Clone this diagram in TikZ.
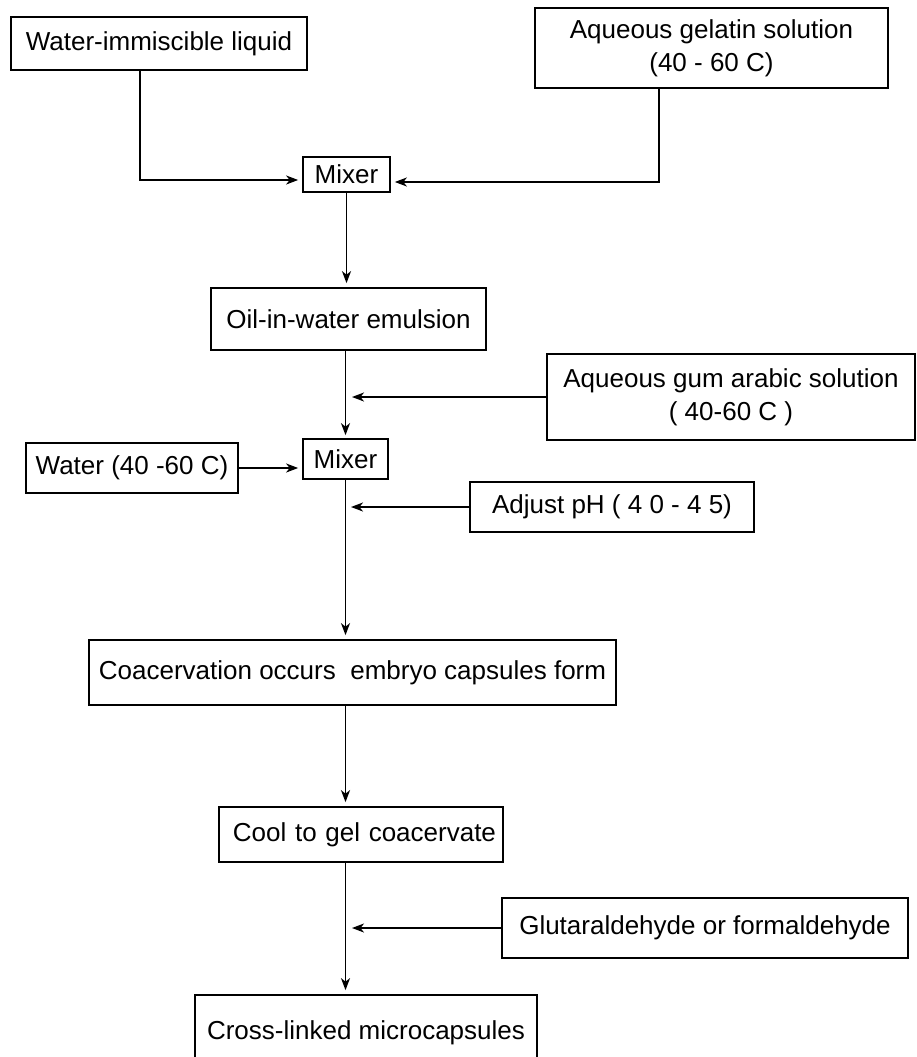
\documentclass[tikz,border=0pt]{standalone}
\usepackage{fontspec}
\setmainfont{Liberation Sans}
\usetikzlibrary{arrows.meta}
\begin{document}
\begin{tikzpicture}[x=1pt,y=-1pt,
  box/.style={draw, line width=1.7pt, inner sep=0pt, align=center, font=\fontsize{26}{33}\selectfont},
  flow/.style={line width=1.7pt, -{Stealth[length=12pt,width=9pt,inset=3.5pt]}}]
\path[use as bounding box] (0,0) rectangle (916,1057);
\clip (0,0) rectangle (916,1057);
\fill[white] (0,0) rectangle (916,1057);

\node[box, minimum width=296pt, minimum height=53pt] (A) at (159,43.5) {Water-immiscible liquid};
\node[box, minimum width=353pt, minimum height=80pt] (B) at (711.5,48) {Aqueous gelatin solution\\(40 - 60 C)};
\node[box, minimum width=87pt, minimum height=35pt] (mix1) at (346.5,174.5) {Mixer};
\node[box, minimum width=275pt, minimum height=62pt] (oil) at (348.5,319) {Oil-in-water emulsion};
\node[box, minimum width=368pt, minimum height=86pt] (gum) at (731,397) {Aqueous gum arabic solution\\( 40-60 C )};
\node[box, minimum width=212pt, minimum height=50pt] (water) at (132,468) {Water (40 -60 C)};
\node[box, minimum width=85pt, minimum height=40pt] (mix2) at (345.5,459) {Mixer};
\node[box, minimum width=284pt, minimum height=50pt] (ph) at (612,507) {Adjust pH ( 4 0 - 4 5)};
\node[box, minimum width=527pt, minimum height=65pt] (coac) at (352.5,672.5) {Coacervation occurs\ \ embryo capsules form};
\node[box, minimum width=284pt, minimum height=55pt, text width=270pt, align=right] (cool) at (361,834.5) {Cool to gel coacervate};
\node[box, minimum width=406pt, minimum height=60pt] (glut) at (705,928) {Glutaraldehyde or formaldehyde};
\node[box, minimum width=342pt, minimum height=76pt] (cross) at (366,1033) {Cross-linked microcapsules};

\draw[flow, shorten >=4pt] (A.south -| 140,0) |- (mix1.west |- 0,180);
\draw[flow, shorten >=4pt] (B.south -| 659,0) |- (mix1.east |- 0,182);
\draw[flow, shorten >=4pt] (mix1.south) -- (mix1.south |- oil.north);
\draw[flow, shorten >=3pt] (oil.south -| mix2.north) -- (mix2.north);
\draw[flow] (gum.west) -- (gum.west -| 352,0);
\draw[flow, shorten >=4pt] (water.east) -- (water.east -| mix2.west);
\draw[flow, shorten >=4pt] (mix2.south) -- (mix2.south |- coac.north);
\draw[flow] (ph.west) -- (ph.west -| 351,0);
\draw[flow, shorten >=4pt] (coac.south -| mix2.south) -- (mix2.south |- cool.north);
\draw[flow, shorten >=4pt] (cool.south -| mix2.south) -- (mix2.south |- cross.north);
\draw[flow] (glut.west) -- (glut.west -| 352,0);
\end{tikzpicture}
\end{document}
